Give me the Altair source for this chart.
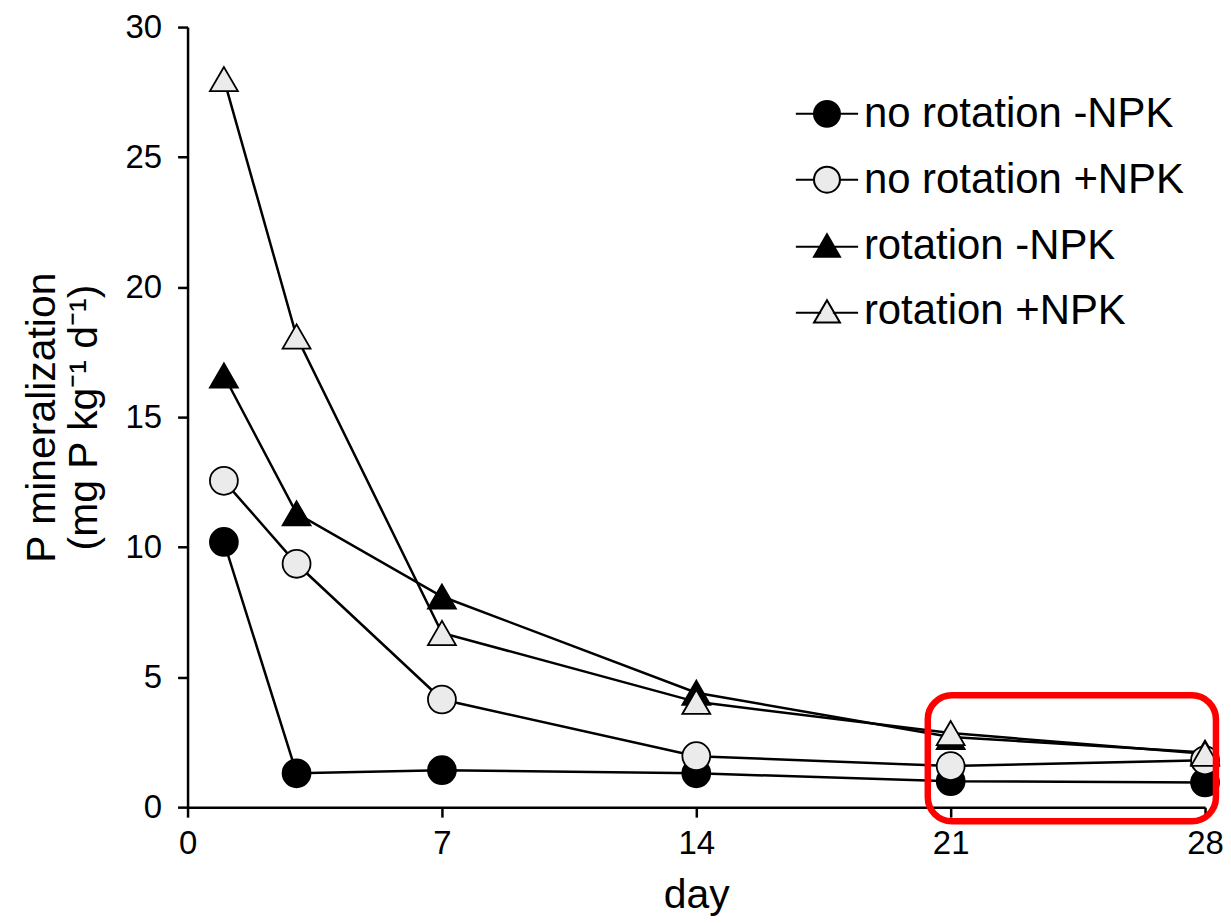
import altair as alt
import pandas as pd

# ---- data ----
days = [1, 3, 7, 14, 21, 28]
series_names = ["no rotation -NPK", "no rotation +NPK", "rotation -NPK", "rotation +NPK"]
no_rot_minus = [10.2, 1.3, 1.42, 1.3, 1.0, 0.95]
no_rot_plus = [12.55, 9.36, 4.14, 1.96, 1.58, 1.8]
rot_minus = [16.6, 11.3, 8.1, 4.4, 2.7, 2.1]
rot_plus = [28.0, 18.1, 6.7, 4.05, 2.85, 2.05]
series_values = [no_rot_minus, no_rot_plus, rot_minus, rot_plus]
series_shapes = ["circle", "circle", "triangle-up", "triangle-up"]
series_fills = ["#000000", "#EBEBEB", "#000000", "#EBEBEB"]
draw_order = [0, 2, 1, 3]

x_ticks = [0, 7, 14, 21, 28]
y_ticks = [0, 5, 10, 15, 20, 25, 30]

# highlighted region (data units)
box_x = [20.37, 28.3]
box_y = [-0.54, 4.3]

# legend symbols: marker with a short line on each side
legend_paths = [
    "M-2.4,0L-1,0M1,0L2.4,0M-1,0A1,1,0,1,0,1,0A1,1,0,1,0,-1,0Z",
    "M-2.4,0L-1,0M1,0L2.4,0M-1,0A1,1,0,1,0,1,0A1,1,0,1,0,-1,0Z",
    "M-2.4,0.1L-0.45,0.1M0.45,0.1L2.4,0.1M0,-0.866L1,0.866L-1,0.866Z",
    "M-2.4,0.1L-0.45,0.1M0.45,0.1L2.4,0.1M0,-0.866L1,0.866L-1,0.866Z",
]

rows = []
for i, name in enumerate(series_names):
    for d, v in zip(days, series_values[i]):
        rows.append({"series": name, "day": d, "value": v,
                     "shape": series_shapes[i], "fillc": series_fills[i],
                     "z": draw_order[i]})
df = pd.DataFrame(rows).sort_values(["z", "day"]).reset_index(drop=True)

box_df = pd.DataFrame({"x1": [box_x[0]], "x2": [box_x[1]], "y1": [box_y[0]], "y2": [box_y[1]]})

FONT = "Liberation Sans"

x_enc = alt.X("day:Q", scale=alt.Scale(domain=[0, 28], nice=False, zero=False),
              axis=alt.Axis(values=x_ticks, title="day", labelFlush=False,
                            labelPadding=10, titlePadding=16))
y_enc = alt.Y("value:Q", scale=alt.Scale(domain=[0, 30], nice=False),
              axis=alt.Axis(values=y_ticks, title=["P mineralization", "(mg P kg⁻¹  d⁻¹)"],
                            labelPadding=16, titlePadding=20, titleLineHeight=42,
                            labelFlush=False))

base = alt.Chart(df)

lines = base.mark_line(color="black", strokeWidth=2.5).encode(
    x=x_enc, y=y_enc, detail="series:N"
)

points = base.mark_point(filled=True, stroke="black", strokeWidth=1.8, opacity=1).encode(
    x="day:Q", y="value:Q",
    shape=alt.Shape("shape:N", scale=None),
    fill=alt.Fill("fillc:N", scale=None),
    size=alt.value(784),
    order=alt.Order("z:Q"),
)

box = alt.Chart(box_df).mark_rect(
    fill="white", fillOpacity=0, stroke="#FF0000", strokeWidth=6.5,
    cornerRadius=24, clip=False
).encode(x="x1:Q", x2="x2:Q", y="y1:Q", y2="y2:Q")

leg = alt.Legend(title=None, orient="none", legendX=620, legendY=66, symbolOpacity=1)
legend = alt.Chart(df).transform_filter("datum.day < 0").mark_point(
    filled=True, strokeWidth=2, opacity=1
).encode(
    x="day:Q", y="value:Q",
    shape=alt.Shape("series:N", scale=alt.Scale(domain=series_names, range=legend_paths),
                    legend=leg),
    fill=alt.Fill("series:N", scale=alt.Scale(domain=series_names, range=series_fills),
                  legend=leg),
    stroke=alt.Stroke("series:N", scale=alt.Scale(domain=series_names, range=["#000000"] * 4),
                      legend=leg),
)

chart = alt.layer(lines, points, box, legend).resolve_scale(
    shape="independent", fill="independent", stroke="independent"
).properties(
    width=1020, height=782,
    padding={"left": 180, "top": 18, "right": 18, "bottom": 110},
    autosize=alt.AutoSizeParams(type="none"),
).configure_view(stroke=None).configure_axis(
    grid=False, domainColor="black", domainWidth=2.5, tickColor="black",
    tickWidth=2.5, tickSize=10, labelFont=FONT, labelFontSize=33, labelColor="black",
    titleFont=FONT, titleFontSize=41, titleFontWeight="normal", titleColor="black",
).configure_legend(
    labelFont=FONT, labelFontSize=42, labelColor="black", symbolSize=676,
    symbolStrokeWidth=2, symbolStrokeColor="black", symbolOpacity=1,
    labelOffset=16, rowPadding=24, labelLimit=800,
)

chart.save("out.html", embed_options={"renderer": "svg", "actions": False})
